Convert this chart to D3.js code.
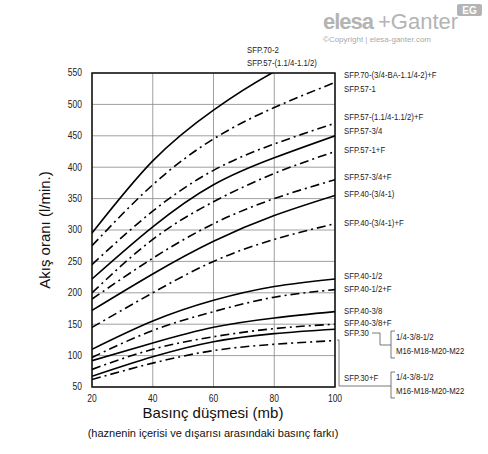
<!DOCTYPE html>
<html><head><meta charset="utf-8">
<script src="https://cdn.jsdelivr.net/npm/d3@7"></script>
<style>body{margin:0;background:#fff}svg text{font-family:"Liberation Sans",Arial,sans-serif}</style>
</head><body><div id="chart"></div>
<script>
var pressures = [20, 40, 60, 80, 100];
var yTicks = [50, 100, 150, 200, 250, 300, 350, 400, 450, 500, 550];
var xTicks = [20, 40, 60, 80, 100];

// flow values at each pressure; dashed = "+F" style (dash-dot)
var curveValues = [
    [295, 410, 491, 552, 600],
    [275, 372, 445, 495, 535],
    [245, 330, 395, 437, 470],
    [222, 305, 372, 415, 450],
    [200, 285, 345, 390, 425],
    [190, 255, 310, 350, 380],
    [172, 230, 282, 323, 355],
    [145, 200, 250, 285, 310],
    [110, 155, 188, 210, 222],
    [97, 140, 170, 193, 205],
    [92, 120, 145, 160, 170],
    [78, 110, 130, 143, 150],
    [67, 98, 122, 135, 142],
    [62, 88, 108, 118, 124]
];
var curveDashed = [false, true, true, false, true, true, false, true, false, true, false, true, false, true];

var rightLabels = ["SFP.70-(3/4-BA-1.1/4-2)+F", "SFP.57-1", "SFP.57-(1.1/4-1.1/2)+F", "SFP.57-3/4", "SFP.57-1+F",
                   "SFP.57-3/4+F", "SFP.40-(3/4-1)", "SFP.40-(3/4-1)+F", "SFP.40-1/2", "SFP.40-1/2+F",
                   "SFP.40-3/8", "SFP.40-3/8+F", "SFP.30", "SFP.30+F"];
var rightLabelY = [75, 89, 117, 131, 150, 177, 194, 223, 276, 289, 311, 323, 333, 378];
var topLabels = ["SFP.70-2", "SFP.57-(1.1/4-1.1/2)"];
var subLabels = ["1/4-3/8-1/2", "M16-M18-M20-M22"];

var svg = d3.select("#chart").append("svg").attr("width", 488).attr("height", 454);
var margin = {left: 92, top: 73, right: 335, bottom: 387};

var x = d3.scaleLinear().domain([20, 100]).range([margin.left, margin.right]);
var y = d3.scaleLinear().domain([50, 550]).range([margin.bottom, margin.top]);

// narrow text helper (the original uses a condensed face)
function narrow(sel, size, sx) {
    return sel.attr("font-size", size).attr("fill", "#222")
        .attr("transform", function () {
            var tx = +d3.select(this).attr("x"), ty = +d3.select(this).attr("y");
            return "translate(" + tx + "," + ty + ") scale(" + sx + ",1) translate(" + (-tx) + "," + (-ty) + ")";
        });
}

svg.append("defs").append("clipPath").attr("id", "plot")
    .append("rect").attr("x", margin.left).attr("y", margin.top)
    .attr("width", margin.right - margin.left).attr("height", margin.bottom - margin.top);

// grid
svg.selectAll(".hg").data(yTicks).enter().append("line")
    .attr("x1", margin.left).attr("x2", margin.right)
    .attr("y1", d => y(d)).attr("y2", d => y(d))
    .attr("stroke", "#888").attr("stroke-width", 0.8);
svg.selectAll(".vg").data(xTicks).enter().append("line")
    .attr("y1", margin.top).attr("y2", margin.bottom)
    .attr("x1", d => x(d)).attr("x2", d => x(d))
    .attr("stroke", "#888").attr("stroke-width", 0.8);

svg.append("rect").attr("x", margin.left).attr("y", margin.top)
    .attr("width", margin.right - margin.left).attr("height", margin.bottom - margin.top)
    .attr("fill", "none").attr("stroke", "#111").attr("stroke-width", 1.5);

// tick labels
narrow(svg.selectAll(".yt").data(yTicks).enter().append("text")
    .attr("x", margin.left - 10).attr("y", d => y(d) + 3.5)
    .attr("text-anchor", "end").text(d => d), 10, 0.85);
narrow(svg.selectAll(".xt").data(xTicks).enter().append("text")
    .attr("x", d => x(d)).attr("y", margin.bottom + 15)
    .attr("text-anchor", "middle").text(d => d), 10, 0.85);

// curves
var line = d3.line().x((d, i) => x(pressures[i])).y(d => y(d)).curve(d3.curveNatural);
svg.append("g").attr("clip-path", "url(#plot)")
    .selectAll("path").data(curveValues).enter().append("path")
    .attr("d", line)
    .attr("fill", "none").attr("stroke", "#000").attr("stroke-width", 1.6)
    .attr("stroke-dasharray", (d, i) => curveDashed[i] ? "9,4,2,4" : null);

// labels
narrow(svg.selectAll(".rl").data(rightLabels).enter().append("text")
    .attr("x", 344).attr("y", (d, i) => rightLabelY[i] + 3.5).text(d => d), 9.5, 0.82);
narrow(svg.selectAll(".tl").data(topLabels).enter().append("text")
    .attr("x", 247).attr("y", (d, i) => 53 + i * 13).text(d => d), 9.5, 0.82);
[337, 377].forEach(function (yy) {
    narrow(svg.selectAll(null).data(subLabels).enter().append("text")
        .attr("x", 396).attr("y", (d, i) => yy + 3.5 + i * 14).text(d => d), 9.5, 0.82);
});

// brackets
var br = svg.append("g").attr("fill", "none").attr("stroke", "#555").attr("stroke-width", 0.8);
br.append("path").attr("d", "M372,333 H380 V345 H391");
br.append("path").attr("d", "M395,331 H391 V358 H395");
br.append("path").attr("d", "M337,340 H339 V386 H391");
br.append("path").attr("d", "M395,372 H391 V398 H395");

// axis titles
svg.append("text").attr("transform", "translate(50,230) rotate(-90)")
    .attr("text-anchor", "middle").attr("font-size", 15).attr("fill", "#111").text("Akış oranı (l/min.)");
svg.append("text").attr("x", 213).attr("y", 418).attr("text-anchor", "middle")
    .attr("font-size", 15).attr("fill", "#111").text("Basınç düşmesi (mb)");
svg.append("text").attr("x", 213).attr("y", 437).attr("text-anchor", "middle")
    .attr("font-size", 11).attr("fill", "#111").text("(haznenin içerisi ve dışarısı arasındaki basınç farkı)");

// logo
svg.append("text").attr("x", 323).attr("y", 29)
    .attr("font-size", 22).attr("font-weight", "bold").attr("letter-spacing", -1).attr("fill", "#b4b4b4").text("elesa");
svg.append("text").attr("x", 378).attr("y", 29)
    .attr("font-size", 22).attr("fill", "#b4b4b4").text("+Ganter");
svg.append("text").attr("x", 323).attr("y", 42).attr("font-size", 8).attr("fill", "#aaa")
    .text("©Copyright | elesa-ganter.com");
svg.append("rect").attr("x", 457).attr("y", 4).attr("width", 25).attr("height", 12).attr("rx", 2).attr("fill", "#b4b4b4");
svg.append("text").attr("x", 469.5).attr("y", 14).attr("text-anchor", "middle").attr("font-size", 10)
    .attr("font-weight", "bold").attr("fill", "#fff").text("EG");
</script></body></html>
